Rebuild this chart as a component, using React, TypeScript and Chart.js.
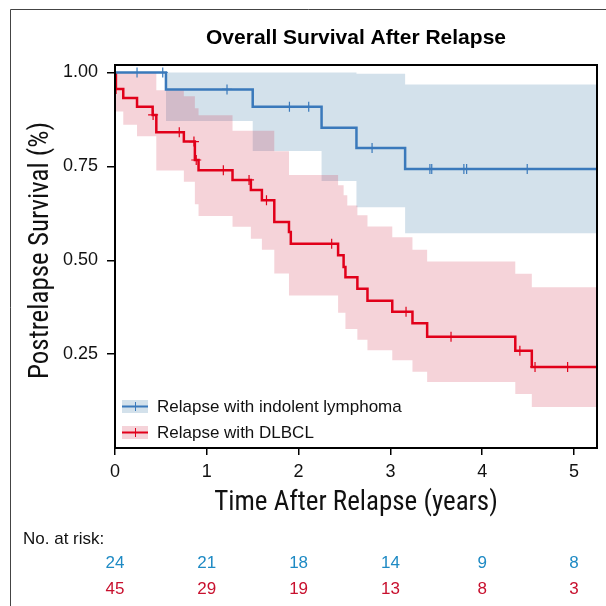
import { useEffect, useRef } from "react";
import { Chart, registerables } from "chart.js";

Chart.register(...registerables);

// ---------- data ----------
const X_MAX = 5.25;
const Y_MAX = 1.02;
const xTickValues = [0, 1, 2, 3, 4, 5];
const yTickValues = [0.25, 0.5, 0.75, 1.0];

const seriesNames = ["Relapse with indolent lymphoma", "Relapse with DLBCL"];

// indolent lymphoma KM curve (time in years, survival after that time)
const indolentTimes = [0, 0.555, 1.5, 2.25, 2.63, 3.16];
const indolentSurv = [1.0, 0.955, 0.909, 0.853, 0.799, 0.743];
const indolentCensorTimes = [0.24, 0.52, 1.22, 1.9, 2.11, 2.8, 3.43, 3.45, 3.8, 3.83, 4.49];
const indolentUpperTimes = [0.555, 2.63, 3.16];
const indolentUpper = [1.0, 0.997, 0.968];
const indolentLowerTimes = [0.555, 1.5, 2.25, 2.63, 3.16];
const indolentLower = [0.871, 0.791, 0.711, 0.641, 0.572];

// DLBCL KM curve
const dlbclTimes = [0, 0.01, 0.09, 0.24, 0.41, 0.45, 0.75, 0.87, 0.91, 1.28, 1.48, 1.6, 1.735, 1.895, 1.915, 2.43, 2.49, 2.51, 2.64, 2.75, 3.02, 3.24, 3.4, 4.36, 4.54];
const dlbclSurv = [1.0, 0.956, 0.932, 0.909, 0.887, 0.841, 0.816, 0.767, 0.74, 0.714, 0.687, 0.66, 0.602, 0.575, 0.544, 0.513, 0.482, 0.455, 0.424, 0.392, 0.363, 0.332, 0.296, 0.259, 0.216];
const dlbclCensorTimes = [0.012, 0.415, 0.7, 0.86, 0.885, 1.18, 1.46, 1.65, 2.36, 3.17, 3.66, 4.41, 4.575, 4.93];
const dlbclUpperTimes = [0.01, 0.45, 0.75, 0.87, 0.91, 1.28, 1.735, 1.895, 2.43, 2.49, 2.53, 2.64, 2.75, 3.02, 3.24, 3.4, 4.36, 4.54];
const dlbclUpper = [1.0, 0.953, 0.937, 0.905, 0.886, 0.845, 0.79, 0.727, 0.7, 0.673, 0.646, 0.62, 0.59, 0.561, 0.528, 0.497, 0.464, 0.428];
const dlbclLowerTimes = [0.01, 0.09, 0.24, 0.45, 0.75, 0.87, 0.91, 1.28, 1.48, 1.6, 1.735, 1.895, 2.43, 2.51, 2.64, 2.75, 3.02, 3.24, 3.4, 4.36, 4.54];
const dlbclLower = [0.896, 0.861, 0.83, 0.739, 0.709, 0.649, 0.618, 0.589, 0.557, 0.528, 0.465, 0.406, 0.36, 0.317, 0.288, 0.26, 0.234, 0.203, 0.176, 0.144, 0.109];

// number at risk
const riskTimes = [0, 1, 2, 3, 4, 5];
const riskIndolent = [24, 21, 18, 14, 9, 8];
const riskDlbcl = [45, 29, 19, 13, 8, 3];

// ---------- styles ----------
const BLUE = "#3a79bb";
const RED = "#e1001a";
const BLUE_BAND = "rgba(70,130,170,0.24)";
const RED_BAND = "rgba(205,35,65,0.2)";
const BLUE_TEXT = "#1e8ac4";
const RED_TEXT = "#c8102e";
const SANS = '"Liberation Sans", Arial, Helvetica, sans-serif';
const NARROW = '"Liberation Sans Narrow", "Roboto Condensed", "DejaVu Sans Condensed", sans-serif';

function stepLine(times: number[], vals: number[], end: number) {
  const pts: { x: number; y: number }[] = [];
  times.forEach((t, i) => {
    if (i > 0) pts.push({ x: t, y: vals[i - 1] });
    pts.push({ x: t, y: vals[i] });
  });
  pts.push({ x: end, y: vals[vals.length - 1] });
  return pts;
}

function survAt(times: number[], vals: number[], t: number) {
  let v = vals[0];
  for (let i = 0; i < times.length; i++) if (times[i] <= t) v = vals[i];
  return v;
}

const frameAndTextPlugin = {
  id: "frameAndText",
  afterDraw(chart: any) {
    const { ctx, chartArea: a } = chart;
    const xs = chart.scales.x;
    ctx.save();
    // outer figure frame
    ctx.strokeStyle = "#444";
    ctx.lineWidth = 1;
    ctx.beginPath();
    ctx.moveTo(10.5, 606);
    ctx.lineTo(10.5, 9.5);
    ctx.lineTo(606, 9.5);
    ctx.stroke();
    // plot frame
    ctx.strokeStyle = "#000";
    ctx.lineWidth = 2;
    ctx.strokeRect(a.left, a.top, a.right - a.left, a.bottom - a.top);

    const cx = (a.left + a.right) / 2;
    ctx.fillStyle = "#000";
    ctx.textBaseline = "middle";
    ctx.textAlign = "center";
    ctx.font = `bold 21px ${SANS}`;
    ctx.fillText("Overall Survival After Relapse", cx, 38);

    ctx.font = `27px ${NARROW}`;
    ctx.fillStyle = "#111";
    ctx.fillText("Time After Relapse (years)", cx, 503);

    ctx.save();
    ctx.translate(41, (a.top + a.bottom) / 2 - 6);
    ctx.rotate(-Math.PI / 2);
    ctx.fillText("Postrelapse Survival (%)", 0, 0);
    ctx.restore();

    // legend
    const legendRows = [
      { name: seriesNames[0], line: BLUE, band: BLUE_BAND, y: 406 },
      { name: seriesNames[1], line: RED, band: RED_BAND, y: 432 },
    ];
    legendRows.forEach((r) => {
      ctx.fillStyle = "#fff";
      ctx.fillRect(122, r.y - 6, 26, 13);
      ctx.fillStyle = r.band;
      ctx.fillRect(122, r.y - 6, 26, 13);
      ctx.strokeStyle = r.line;
      ctx.lineWidth = 2;
      ctx.beginPath();
      ctx.moveTo(122, r.y + 0.5);
      ctx.lineTo(148, r.y + 0.5);
      ctx.stroke();
      ctx.lineWidth = 1;
      ctx.beginPath();
      ctx.moveTo(135.5, r.y - 4);
      ctx.lineTo(135.5, r.y + 5);
      ctx.stroke();
      ctx.fillStyle = "#111";
      ctx.textAlign = "left";
      ctx.font = `17px ${SANS}`;
      ctx.fillText(r.name, 157, r.y + 1);
    });

    // number at risk table
    ctx.font = `17px ${SANS}`;
    ctx.textAlign = "left";
    ctx.fillStyle = "#111";
    ctx.fillText("No. at risk:", 23, 539);
    ctx.textAlign = "center";
    riskTimes.forEach((t, i) => {
      const px = xs.getPixelForValue(t);
      ctx.fillStyle = BLUE_TEXT;
      ctx.fillText(String(riskIndolent[i]), px, 563);
      ctx.fillStyle = RED_TEXT;
      ctx.fillText(String(riskDlbcl[i]), px, 589);
    });
    ctx.restore();
  },
};

export default function App() {
  const ref = useRef<HTMLCanvasElement | null>(null);

  useEffect(() => {
    document.body.style.margin = "0";
    document.body.style.overflow = "hidden";
    const canvas = ref.current;
    if (!canvas) return;

    const censor = (times: number[], st: number[], sv: number[]) =>
      times.map((t) => ({ x: t, y: survAt(st, sv, t) }));

    const chart = new Chart(canvas, {
      type: "line",
      data: {
        datasets: [
          {
            label: "indolent censored",
            data: censor(indolentCensorTimes, indolentTimes, indolentSurv),
            showLine: false,
            pointStyle: "cross",
            pointRadius: 5,
            pointBorderWidth: 1.2,
            pointBorderColor: BLUE,
            pointBackgroundColor: BLUE,
            order: 0,
          },
          {
            label: "dlbcl censored",
            data: censor(dlbclCensorTimes, dlbclTimes, dlbclSurv),
            showLine: false,
            pointStyle: "cross",
            pointRadius: 5,
            pointBorderWidth: 1.2,
            pointBorderColor: RED,
            pointBackgroundColor: RED,
            order: 0,
          },
          {
            label: seriesNames[0],
            data: stepLine(indolentTimes, indolentSurv, X_MAX),
            borderColor: BLUE,
            borderWidth: 2.5,
            pointRadius: 0,
            fill: false,
            borderJoinStyle: "miter",
            order: 1,
          },
          {
            label: seriesNames[1],
            data: stepLine(dlbclTimes, dlbclSurv, X_MAX),
            borderColor: RED,
            borderWidth: 2.5,
            pointRadius: 0,
            fill: false,
            borderJoinStyle: "miter",
            order: 1,
          },
          {
            label: "dlbcl upper",
            data: stepLine(dlbclUpperTimes, dlbclUpper, X_MAX),
            borderColor: "transparent",
            borderWidth: 0,
            pointRadius: 0,
            backgroundColor: RED_BAND,
            fill: "+1",
            order: 2,
          },
          {
            label: "dlbcl lower",
            data: stepLine(dlbclLowerTimes, dlbclLower, X_MAX),
            borderColor: "transparent",
            borderWidth: 0,
            pointRadius: 0,
            fill: false,
            order: 2,
          },
          {
            label: "indolent upper",
            data: stepLine(indolentUpperTimes, indolentUpper, X_MAX),
            borderColor: "transparent",
            borderWidth: 0,
            pointRadius: 0,
            backgroundColor: BLUE_BAND,
            fill: "+1",
            order: 3,
          },
          {
            label: "indolent lower",
            data: stepLine(indolentLowerTimes, indolentLower, X_MAX),
            borderColor: "transparent",
            borderWidth: 0,
            pointRadius: 0,
            fill: false,
            order: 3,
          },
        ],
      },
      options: {
        responsive: false,
        animation: false,
        devicePixelRatio: 1,
        layout: { padding: { top: 65, right: 9, left: 0, bottom: 118 } },
        plugins: {
          legend: { display: false },
          tooltip: { enabled: false },
          title: { display: false },
        },
        elements: { line: { tension: 0 } },
        scales: {
          x: {
            type: "linear",
            min: 0,
            max: X_MAX,
            afterFit: (s: any) => {
              s.height = 40;
            },
            afterBuildTicks: (s: any) => {
              s.ticks = xTickValues.map((v) => ({ value: v }));
            },
            ticks: {
              autoSkip: false,
              maxRotation: 0,
              padding: 6,
              color: "#111",
              font: { family: SANS, size: 18 },
              callback: (v: any) => String(v),
            },
            grid: {
              drawOnChartArea: false,
              drawTicks: true,
              tickLength: 7,
              color: "#000",
              lineWidth: 1.5,
            },
            border: { display: false },
          },
          y: {
            type: "linear",
            min: 0,
            max: Y_MAX,
            afterFit: (s: any) => {
              s.width = 115;
            },
            afterBuildTicks: (s: any) => {
              s.ticks = yTickValues.map((v) => ({ value: v }));
            },
            ticks: {
              autoSkip: false,
              padding: 9,
              color: "#111",
              font: { family: SANS, size: 18 },
              callback: (v: any) => Number(v).toFixed(2),
            },
            grid: {
              drawOnChartArea: false,
              drawTicks: true,
              tickLength: 8,
              color: "#000",
              lineWidth: 1.5,
            },
            border: { display: false },
          },
        },
      } as any,
      plugins: [frameAndTextPlugin],
    });

    return () => chart.destroy();
  }, []);

  return (
    <div style={{ width: 606, height: 606, position: "relative", background: "#fff" }}>
      <canvas ref={ref} width={606} height={606} style={{ display: "block" }} />
    </div>
  );
}
